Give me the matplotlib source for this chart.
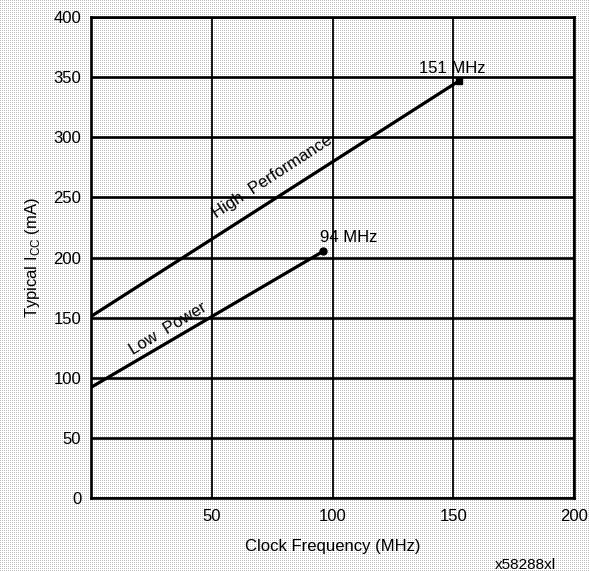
import matplotlib
matplotlib.use('Agg')
import matplotlib.pyplot as plt
import numpy as np

plt.rcParams['font.family'] = ['Liberation Sans', 'DejaVu Sans']

# data
hp_freq = [0, 152.5]
hp_icc = [151, 347]
lp_freq = [0, 96]
lp_icc = [92, 205]
x_ticks = [50, 100, 150, 200]
y_ticks = [0, 50, 100, 150, 200, 250, 300, 350, 400]

W, H, DPI = 590, 572, 100
fig = plt.figure(figsize=(W / DPI, H / DPI), dpi=DPI, facecolor='white')

# halftone-ish dotted background, one grey dot every 2 px
bg = np.ones((H, W))
bg[::2, ::2] = 0.74
fig.figimage(bg, cmap='gray', vmin=0, vmax=1, zorder=-10)

ax = fig.add_axes([91 / W, 1 - 498 / H, (574 - 91) / W, (498 - 17) / H])
ax.patch.set_visible(False)
ax.set_xlim(0, 200)
ax.set_ylim(0, 400)

for y in y_ticks:
    ax.axhline(y, color='black', lw=1.9, zorder=1)
for x in x_ticks:
    ax.axvline(x, color='black', lw=1.3, zorder=1)
for s in ax.spines.values():
    s.set_linewidth(1.9)

ax.set_xticks(x_ticks)
ax.set_yticks(y_ticks)
ax.tick_params(length=0, labelsize=12, pad=8)
ax.tick_params(axis='y', pad=7)

ax.plot(hp_freq, hp_icc, color='black', lw=2.3, zorder=3)
ax.plot(lp_freq, lp_icc, color='black', lw=2.3, zorder=3)
ax.plot(hp_freq[-1], hp_icc[-1], 's', color='black', ms=5, zorder=4)
ax.plot(lp_freq[-1], lp_icc[-1], 'o', color='black', ms=5, zorder=4)

ax.text(136, hp_icc[-1] + 4, '151 MHz', ha='left', va='bottom', fontsize=12)
ax.text(lp_freq[-1] - 1, lp_icc[-1] + 5, '94 MHz', ha='left', va='bottom', fontsize=12)
ax.text(75, 267, 'High  Performance', rotation=33, ha='center', va='center', fontsize=12,
        rotation_mode='anchor')
ax.text(32, 141, 'Low  Power', rotation=31, ha='center', va='center', fontsize=12,
        rotation_mode='anchor')

ax.set_xlabel('Clock Frequency (MHz)', fontsize=12, labelpad=11)
ax.set_ylabel('Typical I$_{\\mathregular{CC}}$ (mA)', fontsize=12, labelpad=8)

fig.text(556 / W, 1 - 565 / H, 'x58288xl', ha='right', va='center', fontsize=11)

fig.savefig('out.png', dpi=DPI)
